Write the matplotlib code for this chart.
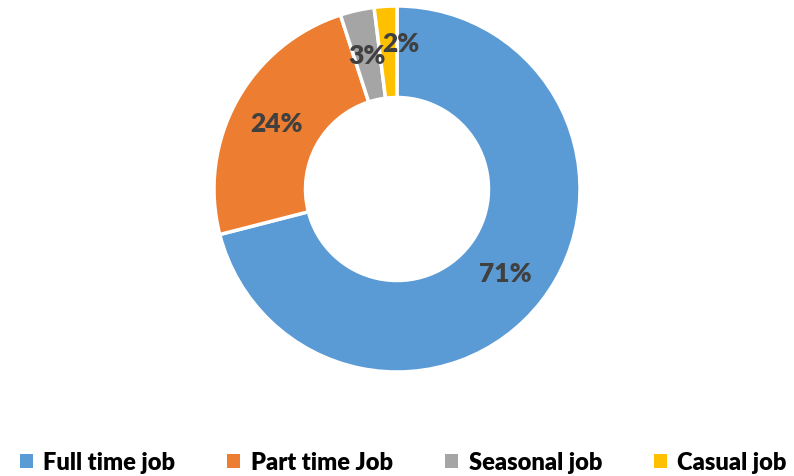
import matplotlib
matplotlib.use("Agg")
import matplotlib.pyplot as plt
from matplotlib.patches import Patch

categories = ["Full time job", "Part time Job", "Seasonal job", "Casual job"]
values = [71, 24, 3, 2]
colors = ["#5B9BD5", "#ED7D31", "#A5A5A5", "#FFC000"]

plt.rcParams['font.family'] = ['Lato', 'DejaVu Sans']

fig = plt.figure(figsize=(7.94, 4.77), dpi=100)
ax = fig.add_axes([214/794, 104/477, 366/794, 366/477])
wedges, texts, autotexts = ax.pie(
    values, colors=colors, startangle=90, counterclock=False,
    radius=1.0, autopct='%1.0f%%', pctdistance=0.75,
    wedgeprops=dict(width=0.5, edgecolor='white', linewidth=2.5),
    textprops=dict(color='#404040', fontsize=19, fontweight='heavy'))
# nudge the small "2%" label like the reference
x, y = autotexts[3].get_position()
autotexts[3].set_position((x + 0.07, y + 0.05))
ax.set_xlim(-1, 1)
ax.set_ylim(-1, 1)
ax.set_aspect('equal')
ax.axis('off')

handles = [Patch(facecolor=c, edgecolor='none') for c in colors]
fig.legend(handles, categories, loc='center', bbox_to_anchor=(0.508, 0.029),
           ncol=4, frameon=False, handlelength=0.55, handleheight=0.55,
           handletextpad=0.45, columnspacing=2.2,
           prop=dict(size=17, weight='heavy'), labelcolor='#000000')

fig.savefig("out.png", dpi=100, facecolor='white')
